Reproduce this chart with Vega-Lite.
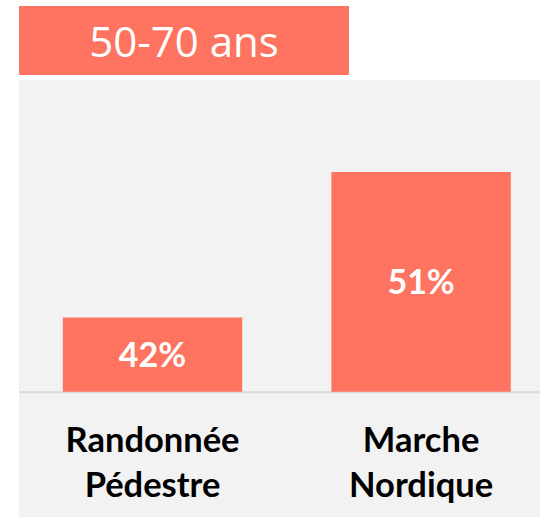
{
  "$schema": "https://vega.github.io/schema/vega-lite/v6.json",
  "background": "white",
  "padding": {"left": 19, "top": 6, "right": 0, "bottom": 0},
  "spacing": 5,
  "config": {"view": {"stroke": null}},
  "vconcat": [
    {
      "width": 330,
      "height": 69,
      "view": {"fill": "#ff7361", "stroke": null},
      "data": {"values": [{"t": "50-70 ans"}]},
      "mark": {"type": "text", "font": "Open Sans", "fontSize": 42, "color": "white", "baseline": "middle", "align": "center", "dy": 3},
      "encoding": {"text": {"field": "t"}}
    },
    {
      "width": 521,
      "height": 437,
      "view": {"fill": "#f2f2f2", "stroke": null},
      "data": {"values": [
        {"activite": "Randonnée Pédestre", "part": 0.42},
        {"activite": "Marche Nordique", "part": 0.51}
      ]},
      "layer": [
        {
          "mark": {"type": "bar", "color": "#ff7361"},
          "encoding": {
            "x": {"field": "activite", "type": "nominal", "sort": null,
              "scale": {"paddingInner": 0.332, "paddingOuter": 0.136, "align": 0.6},
              "axis": {"orient": "bottom", "offset": -125.3, "title": null, "ticks": false,
                "domainColor": "#d9d9d9", "domainWidth": 2, "labelAngle": 0,
                "labelFont": "Lato", "labelFontSize": 34.5, "labelFontWeight": "bold", "labelColor": "#000000",
                "labelExpr": "split(datum.label, ' ')", "labelLineHeight": 45, "labelPadding": 33}},
            "y": {"field": "part", "type": "quantitative", "scale": {"domain": [0.2966, 0.5669], "nice": false, "zero": false}, "axis": null},
            "y2": {"datum": 0.3741}
          }
        },
        {
          "mark": {"type": "text", "font": "Lato", "fontSize": 34, "fontWeight": "bold", "color": "white", "baseline": "middle", "align": "center", "dy": 2},
          "encoding": {
            "x": {"field": "activite", "type": "nominal", "sort": null},
            "y": {"field": "part", "type": "quantitative", "scale": {"domain": [0.2192, 0.7597], "nice": false, "zero": false}, "axis": null},
            "text": {"field": "part", "type": "quantitative", "format": ".0%"}
          }
        }
      ],
      "resolve": {"scale": {"y": "independent"}}
    }
  ]
}
